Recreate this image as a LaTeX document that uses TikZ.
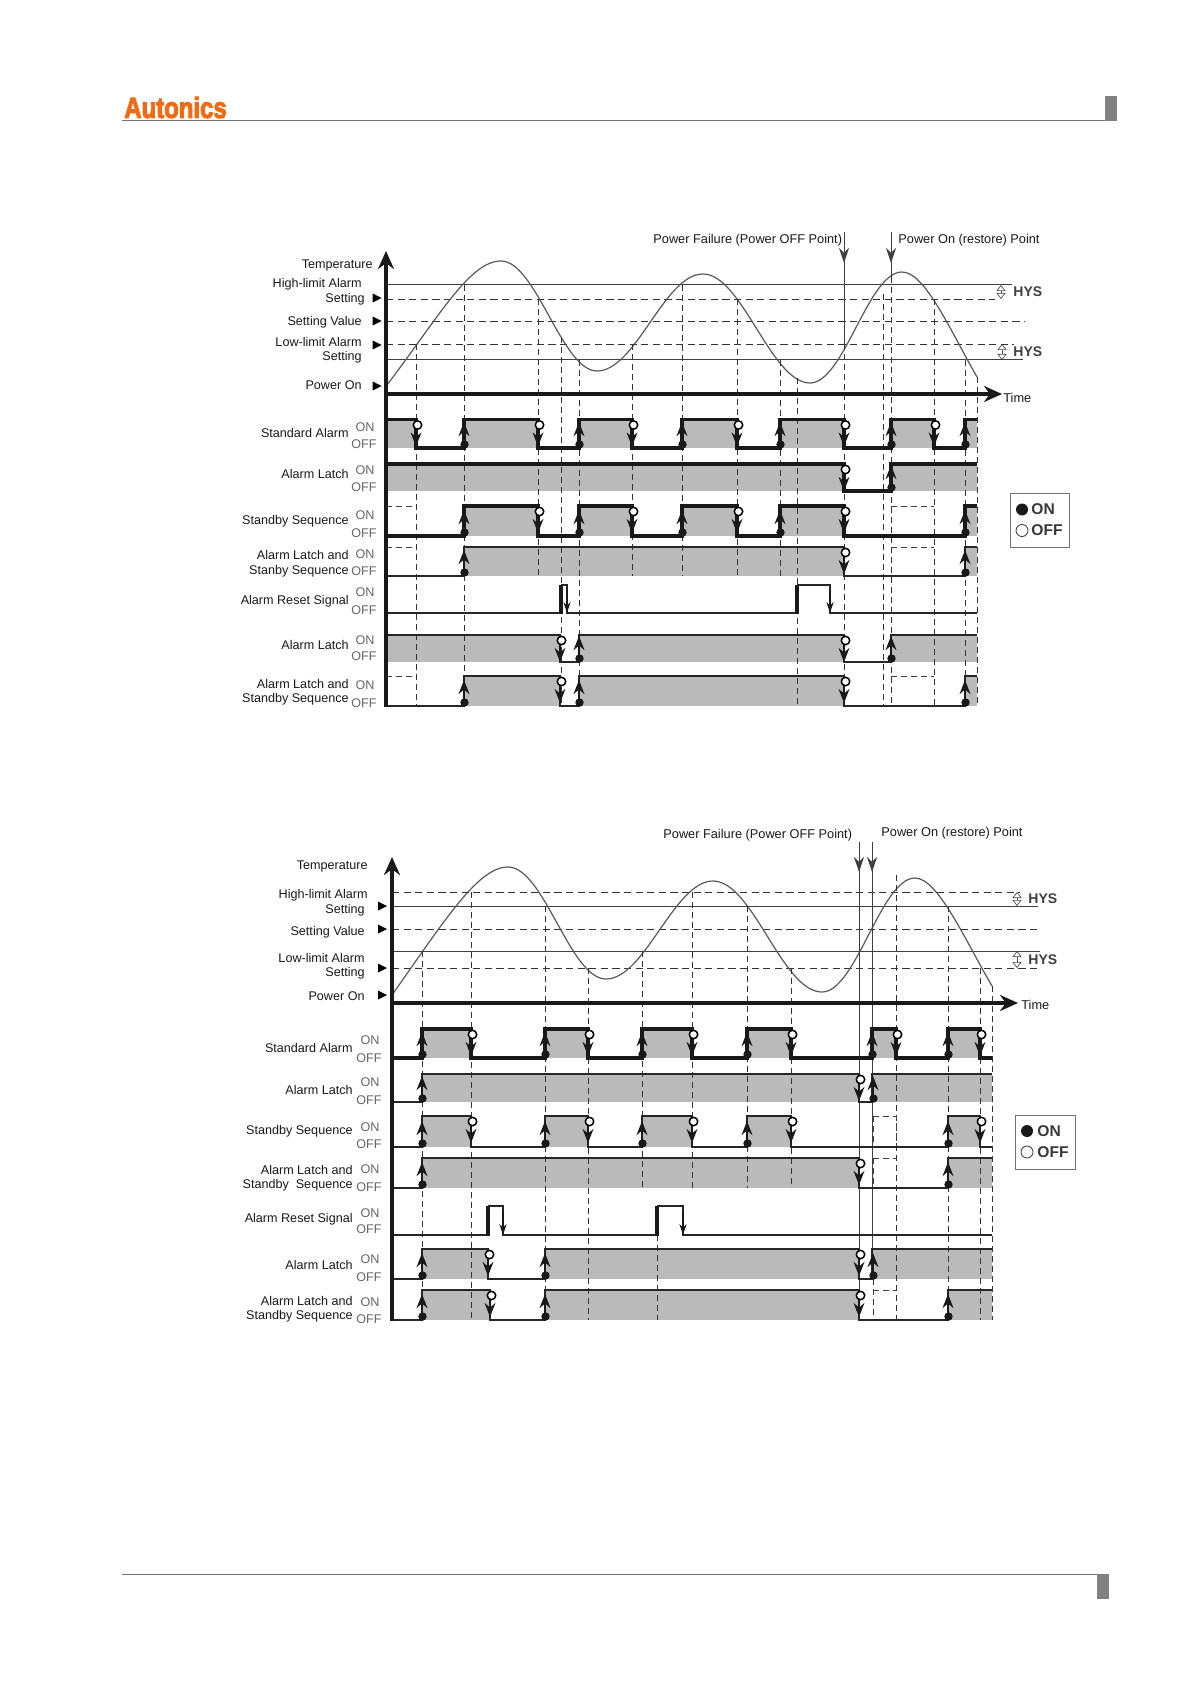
\documentclass[tikz,border=0pt]{standalone}
\usepackage{fontspec}
\setmainfont{Liberation Sans}
\newfontfamily\logofont[UprightFont=* Bold,FakeBold=3.5]{Liberation Sans}
\usepackage{xcolor}
\usepackage{tikz}
\usetikzlibrary{arrows.meta}
\definecolor{logoorange}{HTML}{F26A12}
\tikzset{
  almband/.style={fill=black!27},
  almline/.style={line width=1.6pt, draw=black!90, line cap=butt, line join=miter},
  almmid/.style={line width=1.2pt, draw=black!85, line join=miter},
  almthin/.style={line width=0.9pt, draw=black!85, line join=miter},
  almedge/.style={line width=1.9pt, draw=black!90, line cap=butt},
  almgrid/.style={line width=0.45pt, draw=black!80, dash pattern=on 3pt off 2pt},
  almghost/.style={line width=0.45pt, draw=black!75, dash pattern=on 3pt off 2pt},
  almlimit/.style={line width=0.42pt, draw=black!80, dash pattern=on 3.6pt off 2.2pt},
  almsolid/.style={line width=0.5pt, draw=black!75},
  almcurve/.style={line width=0.6pt, draw=black!65},
  almaxis/.style={line width=1.7pt, draw=black!90},
  almrule/.style={line width=0.6pt, draw=black!55},
  almhys/.style={line width=0.35pt, draw=black!70, {Triangle[open,length=3pt,width=4.6pt]}-{Triangle[open,length=3pt,width=4.6pt]}},
  almtiny/.style={line width=0.6pt, draw=black!90, -{Stealth[length=5.5pt,width=3.6pt]}},
  almdrop/.style={almsolid, -{Stealth[length=7.5pt,width=5pt]}},
  almlabel/.style={font=\fontsize{6.3}{7}\selectfont, inner sep=0pt, anchor=east, text=black!90},
  almonoff/.style={font=\fontsize{6.3}{7}\selectfont, inner sep=0pt, text=black!60},
  almtext/.style={font=\fontsize{6.38}{7}\selectfont, inner sep=0pt, anchor=west, text=black!90},
  almbold/.style={font=\fontsize{7}{8}\bfseries\selectfont, inner sep=0pt, anchor=west, text=black!75},
  almkey/.style={font=\fontsize{7.8}{9}\bfseries\selectfont, inner sep=0pt, anchor=west, text=black!78},
  almtri/.style={fill=black},
  fallmark/.pic={
    \draw[line width=1pt, draw=black!90, -{Stealth[length=7pt,width=5.4pt]}] (0,8) -- (0,27);
    \draw[line width=0.75pt, fill=white] (1.5,5.5) circle (4.2);
  },
  risemark/.pic={
    \draw[line width=1.2pt, draw=black!90, -{Stealth[length=7pt,width=5.4pt]}] (0,-3) -- (0,-26);
    \fill[black!90] (0.5,-3.5) circle (4.2);
  },
}
\begin{document}
\begin{tikzpicture}[x=0.5pt,y=-0.5pt]
\useasboundingbox (0,0) rectangle (1191,1684);
\fill[white] (0,0) rectangle (1191,1684);
\node[font=\fontsize{14.6}{16}\logofont\selectfont, text=logoorange, inner sep=0pt, xscale=0.82, anchor=west] (logo) at (124,107.5) {Autonics};
\draw[almrule] (122,120.5) -- (1105,120.5);
\fill[black!50] (1105,96) rectangle (1117,120.8);
\draw[almrule] (122,1574.5) -- (1097,1574.5);
\fill[black!50] (1097,1574) rectangle (1109,1599);
\fill[almband] (386,419) rectangle (416,448);
\fill[almband] (464,419) rectangle (538,448);
\fill[almband] (579,419) rectangle (632,448);
\fill[almband] (682,419) rectangle (737,448);
\fill[almband] (780,419) rectangle (844,448);
\fill[almband] (891,419) rectangle (934,448);
\fill[almband] (965,419) rectangle (977,448);
\fill[almband] (386,464) rectangle (844,491);
\fill[almband] (891,464) rectangle (977,491);
\fill[almband] (464,506) rectangle (538,536);
\fill[almband] (579,506) rectangle (632,536);
\fill[almband] (682,506) rectangle (737,536);
\fill[almband] (780,506) rectangle (844,536);
\fill[almband] (965,506) rectangle (977,536);
\fill[almband] (464,547) rectangle (844,576);
\fill[almband] (965,547) rectangle (977,576);
\fill[almband] (386,635) rectangle (560,662);
\fill[almband] (579,635) rectangle (844,662);
\fill[almband] (891,635) rectangle (977,662);
\fill[almband] (464,676) rectangle (560,706);
\fill[almband] (579,676) rectangle (844,706);
\fill[almband] (965,676) rectangle (977,706);
\draw[almsolid] (386,285) -- (1012,285);
\draw[almlimit] (386,299) -- (995,299);
\draw[almlimit] (386,321) -- (1025,321);
\draw[almlimit] (386,344) -- (1014,344);
\draw[almsolid] (386,360) -- (1023,360);
\draw[almcurve] (387,385) .. controls (440,315) and (470,261) .. (501,261) .. controls (536,261) and (562,371) .. (597,371) .. controls (636,371) and (664,274) .. (703,274) .. controls (742,274) and (771,383) .. (810,383) .. controls (844,383) and (868,272) .. (902,272) .. controls (925,272) and (950,330) .. (977,377);
\draw[almgrid] (416,344) -- (416,706);
\draw[almgrid] (464,285) -- (464,706);
\draw[almgrid] (538,299) -- (538,576);
\draw[almgrid] (561,337) -- (561,706);
\draw[almgrid] (579,360) -- (579,706);
\draw[almgrid] (632,344) -- (632,576);
\draw[almgrid] (682,285) -- (682,576);
\draw[almgrid] (737,299) -- (737,576);
\draw[almgrid] (780,360) -- (780,576);
\draw[almgrid] (797,378) -- (797,706);
\draw[almgrid] (844,344) -- (844,706);
\draw[almgrid] (883,294) -- (883,706);
\draw[almgrid] (891,277) -- (891,706);
\draw[almgrid] (934,299) -- (934,706);
\draw[almgrid] (965,360) -- (965,706);
\draw[almgrid] (977,377) -- (977,706);
\draw[almdrop] (844,232) -- (844,263);
\draw[almsolid] (844,260) -- (844,344);
\draw[almdrop] (891,232) -- (891,263);
\draw[almsolid] (891,260) -- (891,277);
\draw[almghost] (386,506) -- (416,506);
\draw[almghost] (891,506) -- (934,506);
\draw[almghost] (386,547) -- (416,547);
\draw[almghost] (891,547) -- (934,547);
\draw[almghost] (386,676) -- (416,676);
\draw[almghost] (891,676) -- (934,676);
\draw[almline] (386,419.5) -- (416,419.5) -- (416,448) -- (464,448) -- (464,419.5) -- (538,419.5) -- (538,448) -- (579,448) -- (579,419.5) -- (632,419.5) -- (632,448) -- (682,448) -- (682,419.5) -- (737,419.5) -- (737,448) -- (780,448) -- (780,419.5) -- (844,419.5) -- (844,448) -- (891,448) -- (891,419.5) -- (934,419.5) -- (934,448) -- (965,448) -- (965,419.5) -- (977,419.5);
\draw[almline] (386,464) -- (844,464) -- (844,491) -- (891,491) -- (891,464) -- (977,464);
\draw[almline] (386,536) -- (464,536) -- (464,506) -- (538,506) -- (538,536) -- (579,536) -- (579,506) -- (632,506) -- (632,536) -- (682,536) -- (682,506) -- (737,506) -- (737,536) -- (780,536) -- (780,506) -- (844,506) -- (844,536) -- (965,536) -- (965,506) -- (977,506);
\draw[almmid] (386,576) -- (464,576) -- (464,547) -- (844,547) -- (844,576) -- (965,576) -- (965,547) -- (977,547);
\draw[almthin] (386,613) -- (561,613);
\draw[almedge] (561,613.5) -- (561,584.5);
\draw[almthin] (561,585) -- (567,585) -- (567,613) -- (797,613);
\draw[almedge] (797,613.5) -- (797,584.5);
\draw[almthin] (797,585) -- (830,585) -- (830,613) -- (977,613);
\draw[almthin] (386,635) -- (560,635) -- (560,662) -- (579,662) -- (579,635) -- (844,635) -- (844,662) -- (891,662) -- (891,635) -- (977,635);
\draw[almthin] (386,706) -- (464,706) -- (464,676) -- (560,676) -- (560,706) -- (579,706) -- (579,676) -- (844,676) -- (844,706) -- (965,706) -- (965,676) -- (977,676);
\draw[almtiny] (567,590) -- (567,613);
\draw[almtiny] (830,590) -- (830,613);
\pic at (416,419.5) {fallmark};
\pic at (464,448) {risemark};
\pic at (538,419.5) {fallmark};
\pic at (579,448) {risemark};
\pic at (632,419.5) {fallmark};
\pic at (682,448) {risemark};
\pic at (737,419.5) {fallmark};
\pic at (780,448) {risemark};
\pic at (844,419.5) {fallmark};
\pic at (891,448) {risemark};
\pic at (934,419.5) {fallmark};
\pic at (965,448) {risemark};
\pic at (844,464) {fallmark};
\pic at (891,491) {risemark};
\pic at (464,536) {risemark};
\pic at (538,506) {fallmark};
\pic at (579,536) {risemark};
\pic at (632,506) {fallmark};
\pic at (682,536) {risemark};
\pic at (737,506) {fallmark};
\pic at (780,536) {risemark};
\pic at (844,506) {fallmark};
\pic at (965,536) {risemark};
\pic at (464,576) {risemark};
\pic at (844,547) {fallmark};
\pic at (965,576) {risemark};
\pic at (560,635) {fallmark};
\pic at (579,662) {risemark};
\pic at (844,635) {fallmark};
\pic at (891,662) {risemark};
\pic at (464,706) {risemark};
\pic at (560,676) {fallmark};
\pic at (579,706) {risemark};
\pic at (844,676) {fallmark};
\pic at (965,706) {risemark};
\draw[almaxis, -{Stealth[length=9pt,width=8pt]}] (386,707) -- (386,251);
\draw[almaxis, -{Stealth[length=9pt,width=8pt]}] (386,394) -- (1002,394);
\draw[almhys] (1001,285) -- (1001,299);
\draw[almhys] (1002,344) -- (1002,360);
\fill[almtri] (372.5,293.5) -- (381.5,298) -- (372.5,302.5) -- cycle;
\fill[almtri] (372.5,316.5) -- (381.5,321) -- (372.5,325.5) -- cycle;
\fill[almtri] (372.5,340.5) -- (381.5,345) -- (372.5,349.5) -- cycle;
\fill[almtri] (372.5,381.5) -- (381.5,386) -- (372.5,390.5) -- cycle;
\node[almlabel] (ttemp) at (373,265.5) {Temperature};
\node[almlabel] (thigha) at (362,284) {High-limit Alarm};
\node[almlabel] (thighb) at (365,299) {Setting};
\node[almlabel] (tset) at (362,322) {Setting Value};
\node[almlabel] (tlowa) at (362,341.5) {Low-limit Alarm};
\node[almlabel] (tlowb) at (362,357) {Setting};
\node[almlabel] (tpow) at (362,385) {Power On};
\node[almtext] (tfail) at (653,240.5) {Power Failure (Power OFF Point)};
\node[almtext] (trest) at (898,240.5) {Power On (restore) Point};
\node[almtext] (ttime) at (1003,398) {Time};
\node[almbold] (thysa) at (1013,292) {HYS};
\node[almbold] (thysb) at (1013,352) {HYS};
\node[almlabel] (tstd) at (349,433) {Standard Alarm};
\node[almlabel] (tlat) at (349,473.5) {Alarm Latch};
\node[almlabel] (tsby) at (349,521.5) {Standby Sequence};
\node[almlabel] (tlsa) at (349,555) {Alarm Latch and};
\node[almlabel] (tlsb) at (349,571) {Stanby Sequence};
\node[almlabel] (trst) at (349,601) {Alarm Reset Signal};
\node[almlabel] (tlattwo) at (349,644.5) {Alarm Latch};
\node[almlabel] (tlssa) at (349,684) {Alarm Latch and};
\node[almlabel] (tlssb) at (349,699.5) {Standby Sequence};
\node[almonoff] (tona) at (365,427) {ON};
\node[almonoff] (toffa) at (364,444) {OFF};
\node[almonoff] (tonb) at (365,470) {ON};
\node[almonoff] (toffb) at (364,487) {OFF};
\node[almonoff] (tonc) at (365,515) {ON};
\node[almonoff] (toffc) at (364,533) {OFF};
\node[almonoff] (tond) at (365,554) {ON};
\node[almonoff] (toffd) at (364,571) {OFF};
\node[almonoff] (tone) at (365,592) {ON};
\node[almonoff] (toffe) at (364,610) {OFF};
\node[almonoff] (tonf) at (365,640) {ON};
\node[almonoff] (tofff) at (364,656) {OFF};
\node[almonoff] (tong) at (365,685) {ON};
\node[almonoff] (toffg) at (364,703) {OFF};
\draw[line width=0.5pt, draw=black!55, fill=white] (1010,493) rectangle (1069,547);
\fill[black!90] (1022,509.5) circle (6);
\draw[line width=0.4pt, draw=black!80] (1022,530.5) circle (6);
\node[almkey] (tkeyon) at (1031,509.5) {ON};
\node[almkey] (tkeyoff) at (1031,530.5) {OFF};
\fill[almband] (422,1029) rectangle (471,1058);
\fill[almband] (545,1029) rectangle (588,1058);
\fill[almband] (642,1029) rectangle (692,1058);
\fill[almband] (747,1029) rectangle (791,1058);
\fill[almband] (872,1029) rectangle (896,1058);
\fill[almband] (948,1029) rectangle (980,1058);
\fill[almband] (422,1074) rectangle (859,1102);
\fill[almband] (872,1074) rectangle (992,1102);
\fill[almband] (422,1116) rectangle (471,1147);
\fill[almband] (545,1116) rectangle (588,1147);
\fill[almband] (642,1116) rectangle (692,1147);
\fill[almband] (747,1116) rectangle (791,1147);
\fill[almband] (948,1116) rectangle (980,1147);
\fill[almband] (422,1158) rectangle (859,1188);
\fill[almband] (948,1158) rectangle (992,1188);
\fill[almband] (422,1249) rectangle (488,1279);
\fill[almband] (545,1249) rectangle (859,1279);
\fill[almband] (872,1249) rectangle (992,1279);
\fill[almband] (422,1290) rectangle (490,1320);
\fill[almband] (545,1290) rectangle (859,1320);
\fill[almband] (948,1290) rectangle (992,1320);
\draw[almlimit] (392,892) -- (1020,892);
\draw[almsolid] (392,906) -- (1038,906);
\draw[almlimit] (392,929) -- (1040,929);
\draw[almsolid] (392,951) -- (1040,951);
\draw[almlimit] (392,968) -- (1040,968);
\draw[almcurve] (392,995) .. controls (445,920) and (478,867) .. (508,867) .. controls (544,867) and (570,979) .. (606,979) .. controls (645,979) and (674,881) .. (713,881) .. controls (753,881) and (782,992) .. (822,992) .. controls (856,992) and (881,878) .. (915,878) .. controls (938,878) and (965,940) .. (992,986);
\draw[almgrid] (422,951) -- (422,1320);
\draw[almgrid] (471,892) -- (471,1320);
\draw[almgrid] (545,906) -- (545,1320);
\draw[almgrid] (588,968) -- (588,1320);
\draw[almgrid] (642,951) -- (642,1188);
\draw[almgrid] (692,892) -- (692,1188);
\draw[almgrid] (747,906) -- (747,1188);
\draw[almgrid] (791,968) -- (791,1188);
\draw[almgrid] (657,1235) -- (657,1320);
\draw[almgrid] (896,875) -- (896,1320);
\draw[almgrid] (948,906) -- (948,1320);
\draw[almgrid] (980,968) -- (980,1320);
\draw[almgrid] (992,986) -- (992,1320);
\draw[almgrid] (873,1279) -- (873,1320);
\draw[almghost] (873,1116) -- (896,1116) -- (896,1147);
\draw[almghost] (873,1116) -- (873,1147);
\draw[almghost] (873,1158) -- (896,1158);
\draw[almghost] (873,1158) -- (873,1188);
\draw[almghost] (873,1290) -- (896,1290);
\draw[almdrop] (859,842) -- (859,872);
\draw[almsolid] (859,868) -- (859,1320);
\draw[almdrop] (872,842) -- (872,872);
\draw[almsolid] (872,868) -- (872,1249);
\draw[almline] (392,1058) -- (422,1058) -- (422,1029) -- (471,1029) -- (471,1058) -- (545,1058) -- (545,1029) -- (588,1029) -- (588,1058) -- (642,1058) -- (642,1029) -- (692,1029) -- (692,1058) -- (747,1058) -- (747,1029) -- (791,1029) -- (791,1058) -- (872,1058) -- (872,1029) -- (896,1029) -- (896,1058) -- (948,1058) -- (948,1029) -- (980,1029) -- (980,1058) -- (992,1058);
\draw[almmid] (392,1102) -- (422,1102) -- (422,1074) -- (859,1074) -- (859,1102) -- (872,1102) -- (872,1074) -- (992,1074);
\draw[almmid] (392,1147) -- (422,1147) -- (422,1116) -- (471,1116) -- (471,1147) -- (545,1147) -- (545,1116) -- (588,1116) -- (588,1147) -- (642,1147) -- (642,1116) -- (692,1116) -- (692,1147) -- (747,1147) -- (747,1116) -- (791,1116) -- (791,1147) -- (948,1147) -- (948,1116) -- (980,1116) -- (980,1147) -- (992,1147);
\draw[almmid] (392,1188) -- (422,1188) -- (422,1158) -- (859,1158) -- (859,1188) -- (948,1188) -- (948,1158) -- (992,1158);
\draw[almthin] (392,1235) -- (488,1235);
\draw[almedge] (488,1235.5) -- (488,1205.5);
\draw[almthin] (488,1206) -- (503,1206) -- (503,1235) -- (657,1235);
\draw[almedge] (657,1235.5) -- (657,1205.5);
\draw[almthin] (657,1206) -- (683,1206) -- (683,1235) -- (992,1235);
\draw[almthin] (392,1279) -- (422,1279) -- (422,1249) -- (488,1249) -- (488,1279) -- (545,1279) -- (545,1249) -- (859,1249) -- (859,1279) -- (872,1279) -- (872,1249) -- (992,1249);
\draw[almthin] (392,1320) -- (422,1320) -- (422,1290) -- (490,1290) -- (490,1320) -- (545,1320) -- (545,1290) -- (859,1290) -- (859,1320) -- (948,1320) -- (948,1290) -- (992,1290);
\draw[almtiny] (503,1211) -- (503,1235);
\draw[almtiny] (683,1211) -- (683,1235);
\pic at (422,1058) {risemark};
\pic at (471,1029) {fallmark};
\pic at (545,1058) {risemark};
\pic at (588,1029) {fallmark};
\pic at (642,1058) {risemark};
\pic at (692,1029) {fallmark};
\pic at (747,1058) {risemark};
\pic at (791,1029) {fallmark};
\pic at (872,1058) {risemark};
\pic at (896,1029) {fallmark};
\pic at (948,1058) {risemark};
\pic at (980,1029) {fallmark};
\pic at (422,1102) {risemark};
\pic at (859,1074) {fallmark};
\pic at (873,1102) {risemark};
\pic at (422,1147) {risemark};
\pic at (471,1116) {fallmark};
\pic at (545,1147) {risemark};
\pic at (588,1116) {fallmark};
\pic at (642,1147) {risemark};
\pic at (692,1116) {fallmark};
\pic at (747,1147) {risemark};
\pic at (791,1116) {fallmark};
\pic at (948,1147) {risemark};
\pic at (980,1116) {fallmark};
\pic at (422,1188) {risemark};
\pic at (859,1158) {fallmark};
\pic at (948,1188) {risemark};
\pic at (422,1279) {risemark};
\pic at (488,1249) {fallmark};
\pic at (545,1279) {risemark};
\pic at (859,1249) {fallmark};
\pic at (873,1279) {risemark};
\pic at (422,1320) {risemark};
\pic at (490,1290) {fallmark};
\pic at (545,1320) {risemark};
\pic at (859,1290) {fallmark};
\pic at (948,1320) {risemark};
\draw[almaxis, -{Stealth[length=9pt,width=8pt]}] (392,1321) -- (392,857);
\draw[almaxis, -{Stealth[length=9pt,width=8pt]}] (392,1003) -- (1018,1003);
\draw[almhys] (1017,892) -- (1017,906);
\draw[almhys] (1017,951) -- (1017,968);
\fill[almtri] (378,901.5) -- (387,906) -- (378,910.5) -- cycle;
\fill[almtri] (378,924.5) -- (387,929) -- (378,933.5) -- cycle;
\fill[almtri] (378,963.5) -- (387,968) -- (378,972.5) -- cycle;
\fill[almtri] (378,990.5) -- (387,995) -- (378,999.5) -- cycle;
\node[almlabel] (btemp) at (368,866.5) {Temperature};
\node[almlabel] (bhigha) at (368,895) {High-limit Alarm};
\node[almlabel] (bhighb) at (365,910.5) {Setting};
\node[almlabel] (bset) at (365,932) {Setting Value};
\node[almlabel] (blowa) at (365,957.5) {Low-limit Alarm};
\node[almlabel] (blowb) at (365,973.5) {Setting};
\node[almlabel] (bpow) at (365,996.5) {Power On};
\node[almtext] (bfail) at (663,835.5) {Power Failure (Power OFF Point)};
\node[almtext] (brest) at (881,833.5) {Power On (restore) Point};
\node[almtext] (btime) at (1021,1005) {Time};
\node[almbold] (bhysa) at (1028,899) {HYS};
\node[almbold] (bhysb) at (1028,959.5) {HYS};
\node[almlabel] (bstd) at (353,1047.5) {Standard Alarm};
\node[almlabel] (blat) at (353,1089.5) {Alarm Latch};
\node[almlabel] (bsby) at (353,1131.5) {Standby Sequence};
\node[almlabel] (blsa) at (353,1169.5) {Alarm Latch and};
\node[almlabel] (blsb) at (353,1185.5) {Standby\ \ Sequence};
\node[almlabel] (brst) at (353,1219.5) {Alarm Reset Signal};
\node[almlabel] (blattwo) at (353,1265) {Alarm Latch};
\node[almlabel] (blssa) at (353,1301) {Alarm Latch and};
\node[almlabel] (blssb) at (353,1316) {Standby Sequence};
\node[almonoff] (bona) at (370,1040) {ON};
\node[almonoff] (boffa) at (369,1058) {OFF};
\node[almonoff] (bonb) at (370,1082) {ON};
\node[almonoff] (boffb) at (369,1100) {OFF};
\node[almonoff] (bonc) at (370,1127) {ON};
\node[almonoff] (boffc) at (369,1144) {OFF};
\node[almonoff] (bond) at (370,1169) {ON};
\node[almonoff] (boffd) at (369,1187) {OFF};
\node[almonoff] (bone) at (370,1213) {ON};
\node[almonoff] (boffe) at (369,1229) {OFF};
\node[almonoff] (bonf) at (370,1259) {ON};
\node[almonoff] (bofff) at (369,1277) {OFF};
\node[almonoff] (bong) at (370,1302) {ON};
\node[almonoff] (boffg) at (369,1319) {OFF};
\draw[line width=0.5pt, draw=black!55, fill=white] (1015,1115) rectangle (1075,1169);
\fill[black!90] (1027,1131) circle (6);
\draw[line width=0.4pt, draw=black!80] (1027,1152) circle (6);
\node[almkey] (bkeyon) at (1037,1131) {ON};
\node[almkey] (bkeyoff) at (1037,1152) {OFF};
\end{tikzpicture}
\end{document}
